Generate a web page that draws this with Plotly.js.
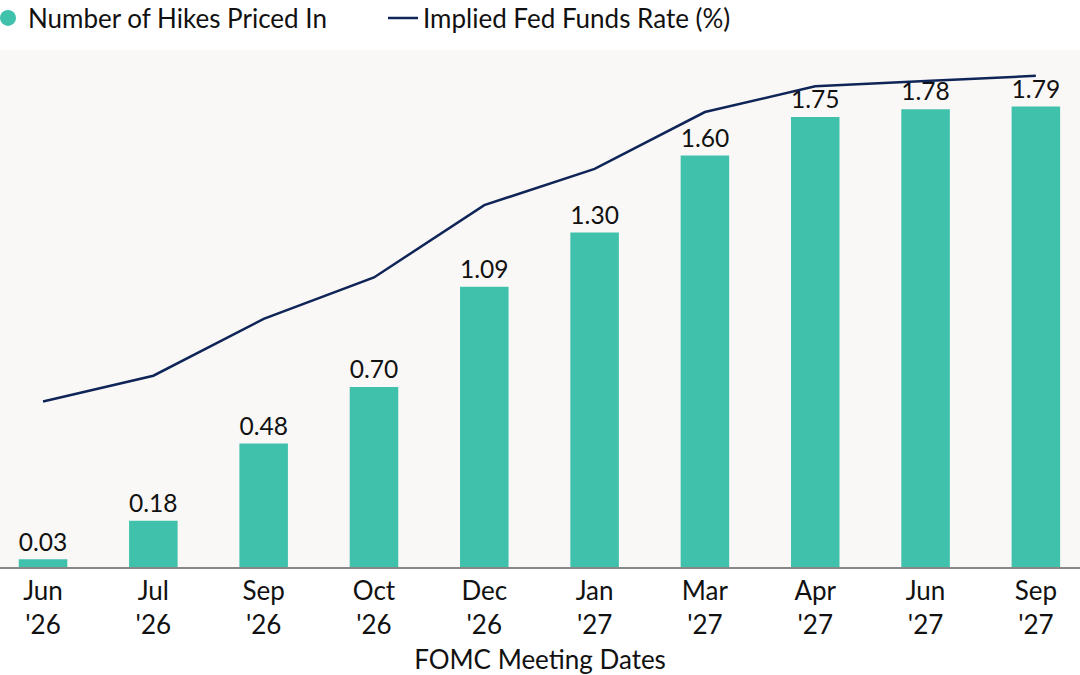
<!DOCTYPE html>
<html>
<head>
<meta charset="utf-8">
<script src="https://cdn.plot.ly/plotly-3.0.1.min.js"></script>
<style>html,body{margin:0;padding:0;background:#fff;}#chart{width:1080px;height:675px;}</style>
</head>
<body>
<div id="chart"></div>
<script>
const categories = ["Jun<br>'26","Jul<br>'26","Sep<br>'26","Oct<br>'26","Dec<br>'26","Jan<br>'27","Mar<br>'27","Apr<br>'27","Jun<br>'27","Sep<br>'27"];
const hikesPriced = [0.03, 0.18, 0.48, 0.70, 1.09, 1.30, 1.60, 1.75, 1.78, 1.79];
const impliedRate = [3.52, 3.57, 3.68, 3.76, 3.90, 3.97, 4.08, 4.13, 4.14, 4.15];

const FONT = "Lato, 'Noto Sans', sans-serif";
const TEAL = "#40c1ac";
const NAVY = "#0f2557";

const traces = [
  {
    type: "bar", x: categories, y: hikesPriced, name: "Number of Hikes Priced In",
    marker: {color: TEAL}, width: 0.44, showlegend: false,
    text: hikesPriced.map(v => v.toFixed(2)), textposition: "outside",
    textfont: {family: FONT, size: 26, color: "#111"}, cliponaxis: false,
    hoverinfo: "x+y"
  },
  {
    type: "scatter", mode: "markers", x: categories, y: categories.map(() => null),
    name: "Number of Hikes Priced In", marker: {color: TEAL, size: 18, symbol: "circle"},
    showlegend: true, hoverinfo: "skip"
  },
  {
    type: "scatter", mode: "lines", x: categories, y: impliedRate, yaxis: "y2",
    name: "Implied Fed Funds Rate (%)", line: {color: NAVY, width: 2.5}
  }
];

const layout = {
  width: 1080, height: 675,
  margin: {l: 0, r: 0, t: 50, b: 108, pad: 0, autoexpand: false},
  paper_bgcolor: "#ffffff", plot_bgcolor: "#faf8f6",
  font: {family: FONT, size: 26, color: "#111"},
  showlegend: true,
  legend: {orientation: "h", x: -12/1080, xanchor: "left", y: 1 + 32/517, yanchor: "middle",
           font: {family: FONT, size: 26, color: "#111"}, bgcolor: "rgba(0,0,0,0)",
           entrywidth: 350, entrywidthmode: "pixels", traceorder: "normal"},
  bargap: 0.5,
  xaxis: {
    type: "category", range: [-0.39, 9.40], showgrid: false, zeroline: false,
    showline: true, linecolor: "#888", linewidth: 1.5, ticks: "",
    tickfont: {family: FONT, size: 26, color: "#111"},
    title: {text: "FOMC Meeting Dates", font: {family: FONT, size: 26, color: "#111"}, standoff: 12},
    fixedrange: true
  },
  yaxis: {range: [0, 2.01], visible: false, showgrid: false, zeroline: false, fixedrange: true},
  yaxis2: {range: [3.2, 4.2], overlaying: "y", side: "right", visible: false, showgrid: false, zeroline: false, fixedrange: true}
};

Plotly.newPlot("chart", traces, layout, {displayModeBar: false, responsive: false});
</script>
</body>
</html>
